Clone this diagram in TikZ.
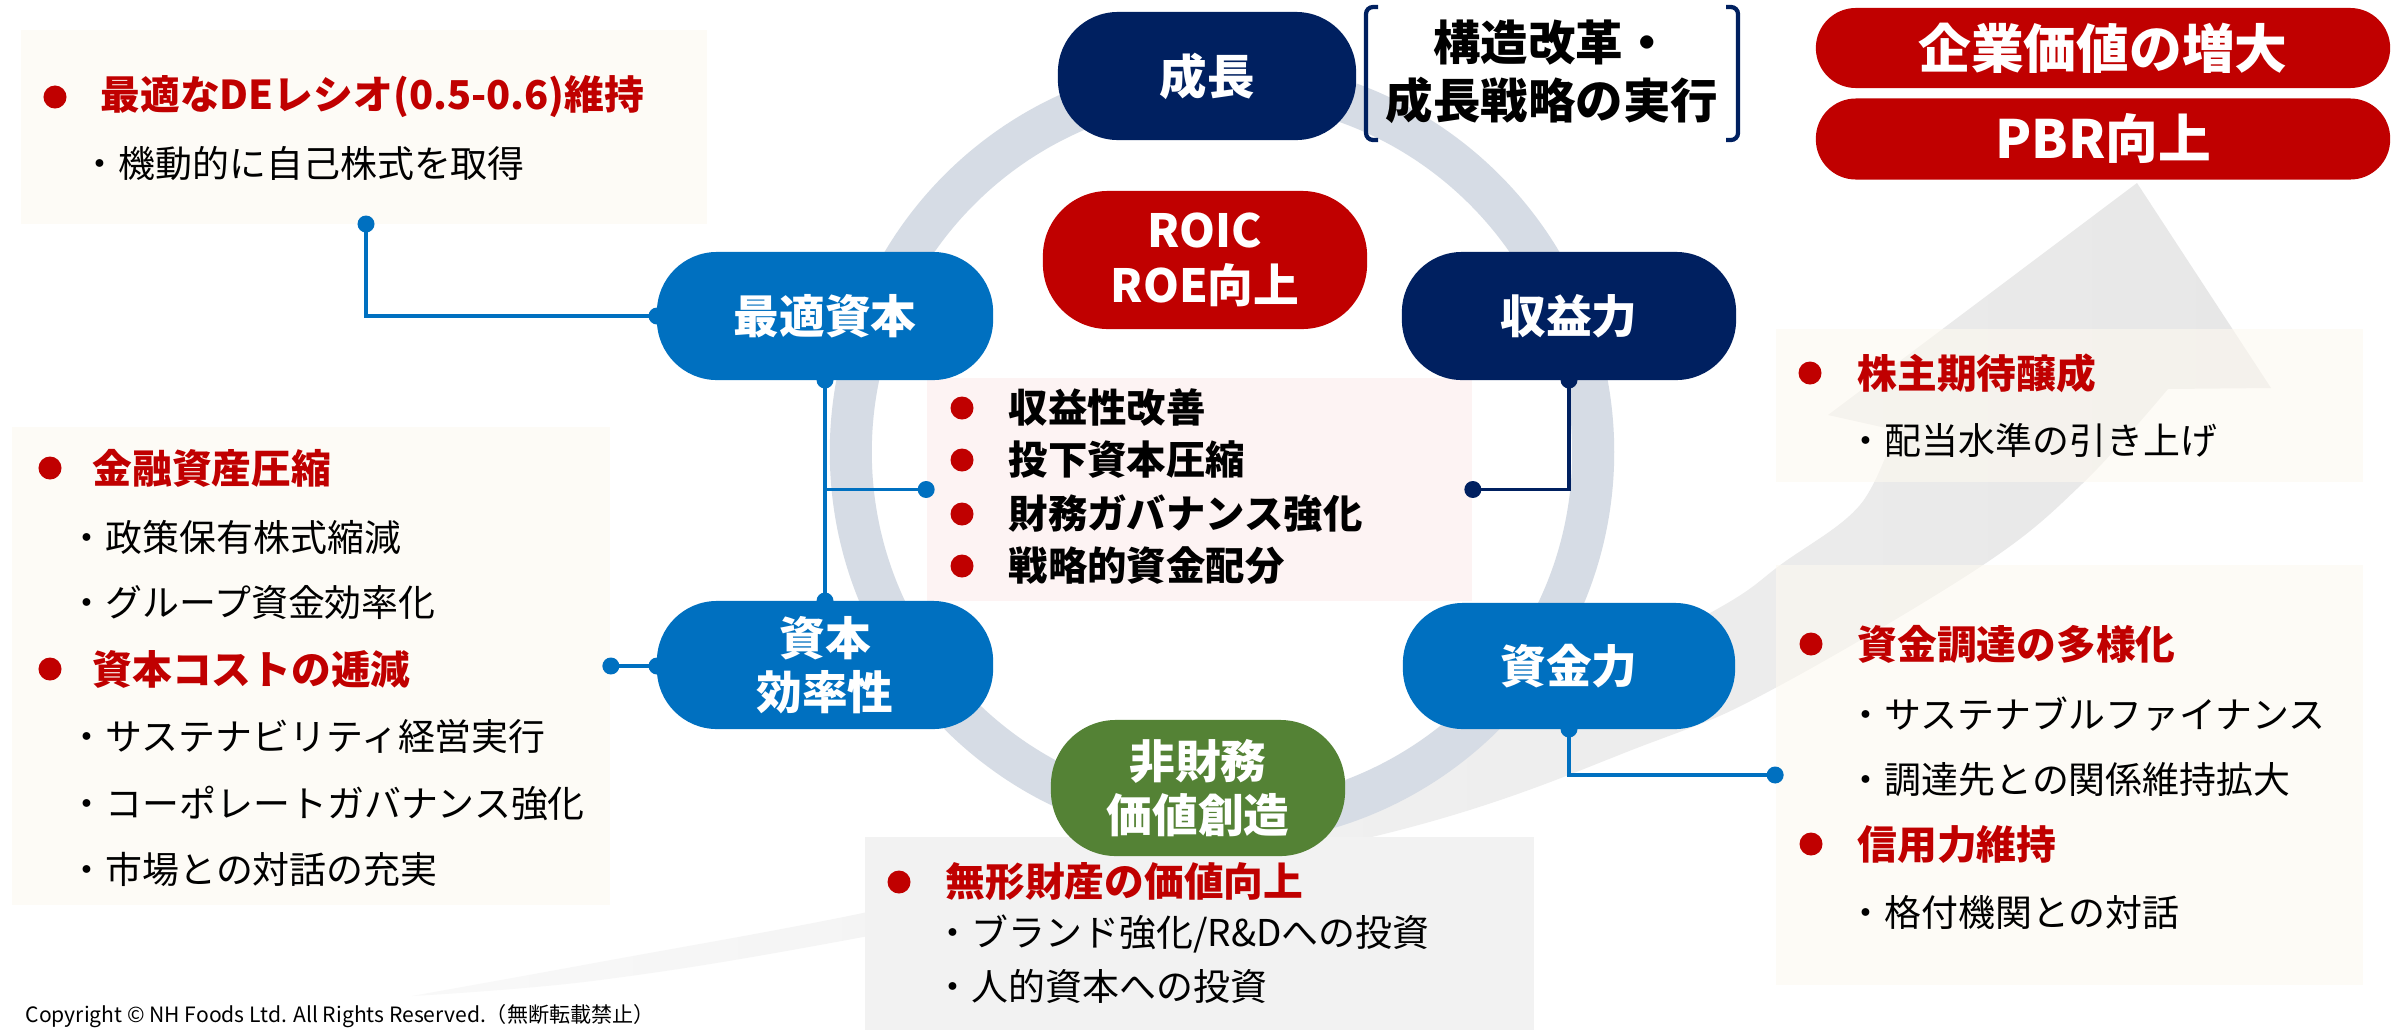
\documentclass[tikz,border=0pt]{standalone}
\usepackage{fontspec}
\setmainfont{Noto Sans CJK JP}
\definecolor{cblue}{RGB}{0,112,192}
\definecolor{cnavy}{RGB}{0,32,96}
\definecolor{cred}{RGB}{192,0,0}
\definecolor{cgreen}{RGB}{84,130,53}
\definecolor{cring}{RGB}{214,220,229}
\definecolor{ccream}{RGB}{253,249,240}
\definecolor{cpink}{RGB}{253,243,243}
\definecolor{cgreybox}{RGB}{242,242,242}
\begin{document}
\begin{tikzpicture}[x=0.01cm,y=-0.01cm,
  pill/.style={rounded corners=0.6cm, inner sep=0pt, text=white, align=center, font=\bfseries\fontsize{13}{15.5}\selectfont},
  boxbg/.style={inner sep=0pt, draw=none},
  hd/.style={anchor=west, inner sep=0pt, text=cred, font=\bfseries\fontsize{11.3}{13}\selectfont},
  hdk/.style={anchor=west, inner sep=0pt, text=black, font=\bfseries\fontsize{11.2}{13}\selectfont},
  sub/.style={anchor=west, inner sep=0pt, text=black, font=\fontsize{10.5}{12}\selectfont},
  conn/.style={cblue, line width=0.9pt},
  bracket/.style={cnavy, line width=1.2pt, rounded corners=0.07cm}
]
\useasboundingbox (0,0) rectangle (2394,1030);
\fill[white] (0,0) rectangle (2394,1030);

% grey swoosh arrow
\shade[left color=gray!5, right color=gray!19]
  plot[smooth, tension=0.6] coordinates {(412,996) (600,962) (863,913) (1100,858) (1300,800) (1500,718) (1710,613) (1783,563) (1860,505) (1895,430)}
  -- (1828,415) -- (2137,183) -- (2271,388) -- (2168,389)
  -- plot[smooth, tension=0.6] coordinates {(2168,389) (2083,483) (1983,565) (1777,687) (1650,743) (1380,835) (863,937) (600,980) (412,996)} -- cycle;

% ring
\draw[cring, line width=0.42cm] (1222,452) circle[radius=3.71cm];

% boxes
\node[boxbg, fill=ccream, fill opacity=0.6, minimum width=6.86cm, minimum height=1.94cm] (tlbox) at (364,127) {};
\node[boxbg, fill=ccream, fill opacity=0.6, minimum width=5.98cm, minimum height=4.78cm] (lbox) at (311,666) {};
\node[boxbg, fill=cpink, minimum width=5.45cm, minimum height=2.23cm] (pink) at (1199.5,489.5) {};
\node[boxbg, fill=cgreybox, minimum width=6.69cm, minimum height=1.93cm] (bbox) at (1199.5,933.5) {};
\node[boxbg, fill=ccream, fill opacity=0.6, minimum width=5.87cm, minimum height=1.53cm] (rubox) at (2069.5,405.5) {};
\node[boxbg, fill=ccream, fill opacity=0.6, minimum width=5.87cm, minimum height=4.20cm] (rlbox) at (2069.5,775) {};

\coordinate (k1) at (366,224);
\path (825,316) coordinate (optc) (825,665) coordinate (effc) (1569,316) coordinate (earnc) (1569,666) coordinate (fundc);

% connectors
\draw[conn] (k1) |- (657,316) coordinate (optw);
\fill[cblue] (k1) circle[radius=0.085cm] (optw) circle[radius=0.085cm];
\draw[conn] (825,380) coordinate (opts) -- (825,601) coordinate (effn);
\draw[conn] (opts |- pink.west) -- (pink.west);
\fill[cblue] (opts) circle[radius=0.085cm] (effn) circle[radius=0.085cm] (pink.west) circle[radius=0.085cm];
\draw[conn, cnavy] (1569,380) coordinate (earns) |- (pink.east);
\fill[cnavy] (earns) circle[radius=0.085cm] (pink.east) circle[radius=0.085cm];
\draw[conn] (lbox.east) -- (657,666) coordinate (effw);
\fill[cblue] (lbox.east) circle[radius=0.085cm] (effw) circle[radius=0.085cm];
\draw[conn] (1569,729) coordinate (funds) |- (rlbox.west);
\fill[cblue] (funds) circle[radius=0.085cm] (rlbox.west) circle[radius=0.085cm];

% pill nodes
\node[pill, fill=cblue, minimum width=3.36cm, minimum height=1.28cm] (opt) at (optc) {最適資本};
\node[pill, fill=cblue, minimum width=3.36cm, minimum height=1.28cm] (eff) at (effc) {資本\\効率性};
\node[pill, fill=cnavy, minimum width=2.98cm, minimum height=1.28cm, font=\bfseries\fontsize{13.5}{16}\selectfont] (grow) at (1207,76) {成長};
\node[pill, fill=cred, minimum width=3.24cm, minimum height=1.38cm, rounded corners=0.65cm] (roic) at (1205,260) {ROIC\\ROE向上};
\node[pill, fill=cnavy, minimum width=3.34cm, minimum height=1.28cm] (earn) at (earnc) {収益力};
\node[pill, fill=cblue, minimum width=3.32cm, minimum height=1.26cm] (fund) at (fundc) {資金力};
\node[pill, fill=cgreen, minimum width=2.94cm, minimum height=1.36cm, rounded corners=0.65cm] (nonfin) at (1198,788) {非財務\\価値創造};
\node[pill, fill=cred, minimum width=5.74cm, minimum height=0.80cm, rounded corners=0.4cm, font=\bfseries\fontsize{15}{18}\selectfont] (pill1) at (2103,48) {企業価値の増大};
\node[pill, fill=cred, minimum width=5.74cm, minimum height=0.81cm, rounded corners=0.4cm, font=\bfseries\fontsize{15}{18}\selectfont] (pill2) at (2103,139) {PBR向上};

% bracket and strategy text
\draw[bracket] (1378,7) -- (1366,7) -- (1366,140) -- (1378,140);
\draw[bracket] (1726,7) -- (1738,7) -- (1738,140) -- (1726,140);
\node[inner sep=0pt, align=center, font=\bfseries\fontsize{13.5}{16.5}\selectfont] (strat) at (1552,72) {構造改革・\\成長戦略の実行};

% top-left box text
\fill[cred] (55,97) circle[radius=0.115cm];
\node[hd] (t1) at (100,97) {最適なDEレシオ(0.5-0.6)維持};
\node[sub] (t2) at (81,163) {・機動的に自己株式を取得};

% left box text
\fill[cred] (50,468) circle[radius=0.115cm] (50,669) circle[radius=0.115cm];
\node[hd] (l1) at (92,468) {金融資産圧縮};
\node[sub] (l2) at (68,537) {・政策保有株式縮減};
\node[sub] (l3) at (68,603) {・グループ資金効率化};
\node[hd] (l4) at (92,669) {資本コストの逓減};
\node[sub] (l5) at (68,736) {・サステナビリティ経営実行};
\node[sub] (l6) at (68,803) {・コーポレートガバナンス強化};
\node[sub] (l7) at (68,869) {・市場との対話の充実};

% pink box text
\fill[cred] (962,408) circle[radius=0.115cm] (962,460) circle[radius=0.115cm] (962,514) circle[radius=0.115cm] (962,566) circle[radius=0.115cm];
\node[hdk] (p1) at (1008,408) {収益性改善};
\node[hdk] (p2) at (1008,460) {投下資本圧縮};
\node[hdk] (p3) at (1008,514) {財務ガバナンス強化};
\node[hdk] (p4) at (1008,566) {戦略的資金配分};

% bottom box text
\fill[cred] (899,882) circle[radius=0.115cm];
\node[hd] (b1) at (945,882) {無形財産の価値向上};
\node[sub] (b2) at (934,934) {・ブランド強化/R\&Dへの投資};
\node[sub] (b3) at (934,986) {・人的資本への投資};

% right upper box text
\fill[cred] (1810,373) circle[radius=0.115cm];
\node[hd] (r1) at (1857,373) {株主期待醸成};
\node[sub] (r2) at (1847,440) {・配当水準の引き上げ};

% right lower box text
\fill[cred] (1811,644) circle[radius=0.115cm] (1811,844) circle[radius=0.115cm];
\node[hd] (s1) at (1857,644) {資金調達の多様化};
\node[sub] (s2) at (1847,714) {・サステナブルファイナンス};
\node[sub] (s3) at (1847,780) {・調達先との関係維持拡大};
\node[hd] (s4) at (1857,844) {信用力維持};
\node[sub] (s5) at (1847,912) {・格付機関との対話};

% copyright
\node[anchor=west, inner sep=0pt, font=\fontsize{6}{7}\selectfont] (copy) at (25,1016) {Copyright © NH Foods Ltd. All Rights Reserved.（無断転載禁止）};
\end{tikzpicture}
\end{document}
